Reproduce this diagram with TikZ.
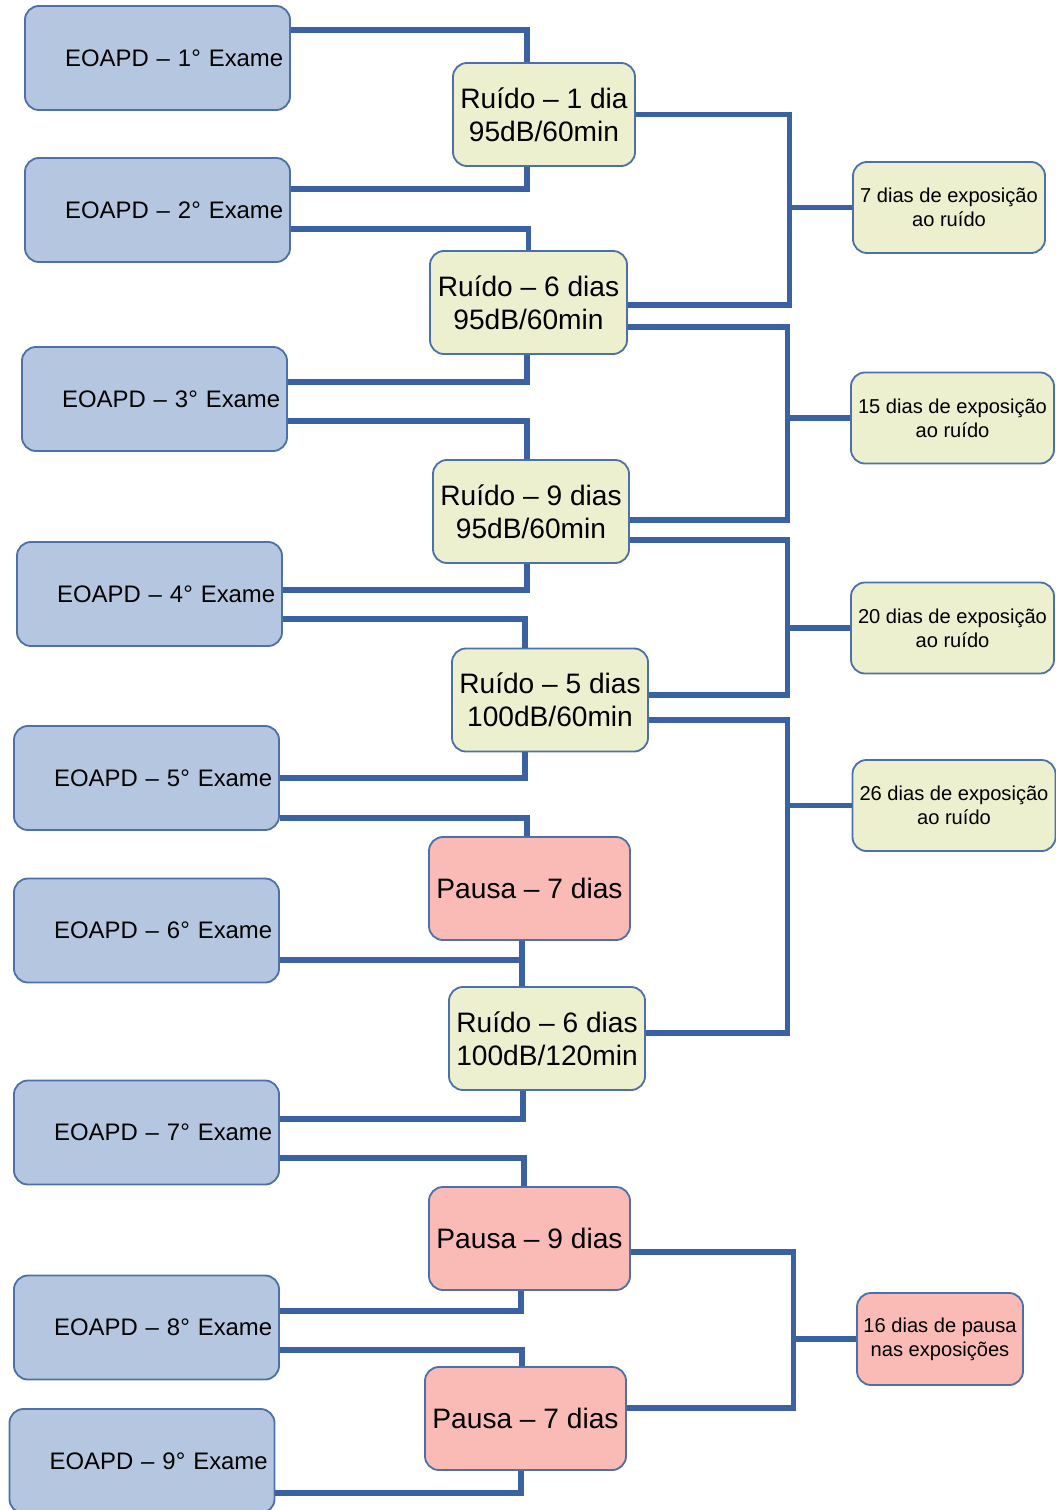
\documentclass[tikz,border=0pt]{standalone}
\usepackage{fontspec}
\setmainfont{Liberation Sans}
\usepackage{tikz}
\usetikzlibrary{calc}
\definecolor{examfill}{RGB}{181,199,224}
\definecolor{ruidofill}{RGB}{236,240,206}
\definecolor{pausafill}{RGB}{250,187,182}
\definecolor{boxline}{RGB}{78,112,168}
\definecolor{linkline}{RGB}{58,98,163}
\begin{document}
\begin{tikzpicture}[line join=miter,x=0.025cm,y=-0.025cm,
  exam/.style={draw=boxline,line width=1.3pt,fill=examfill,rounded corners=0.35cm,
    minimum height=2.6cm,text width=6.285cm,inner xsep=0.17cm,align=right,
    font=\fontsize{17}{20}\selectfont},
  ruido/.style={draw=boxline,line width=1.3pt,fill=ruidofill,rounded corners=0.35cm,
    minimum width=4.9cm,minimum height=2.575cm,inner xsep=0pt,align=center,
    font=\fontsize{20}{23.5}\selectfont},
  pausa/.style={ruido,fill=pausafill,minimum width=5.025cm},
  soma/.style={ruido,minimum width=5.075cm,minimum height=2.275cm,
    font=\fontsize{14.3}{17}\selectfont},
  link/.style={draw=linkline,line width=3.6pt}]
\useasboundingbox (0,0) rectangle (1056,1510);
\node[exam] (e1) at (157.5,58) {EOAPD -- 1° Exame};
\node[exam] (e2) at (157.5,210) {EOAPD -- 2° Exame};
\node[exam] (e3) at (154.5,399) {EOAPD -- 3° Exame};
\node[exam] (e4) at (149.5,594) {EOAPD -- 4° Exame};
\node[exam] (e5) at (146.5,778) {EOAPD -- 5° Exame};
\node[exam] (e6) at (146.5,930.5) {EOAPD -- 6° Exame};
\node[exam] (e7) at (146.5,1132.5) {EOAPD -- 7° Exame};
\node[exam] (e8) at (146.5,1327.5) {EOAPD -- 8° Exame};
\node[exam] (e9) at (142,1461) {EOAPD -- 9° Exame};
\node[ruido,minimum width=4.55cm] (r1) at (544,114.5) {Ruído -- 1 dia\\95dB/60min};
\node[ruido,minimum width=4.925cm] (r2) at (528.5,302.5) {Ruído -- 6 dias\\95dB/60min};
\node[ruido] (r3) at (531,511.5) {Ruído -- 9 dias\\95dB/60min};
\node[ruido] (r4) at (550,700) {Ruído -- 5 dias\\100dB/60min};
\node[pausa] (p1) at (529.5,888.5) {Pausa -- 7 dias};
\node[ruido] (r5) at (547,1038.5) {Ruído -- 6 dias\\100dB/120min};
\node[pausa] (p2) at (529.5,1238.5) {Pausa -- 9 dias};
\node[pausa] (p3) at (525.5,1418.5) {Pausa -- 7 dias};
\node[soma,minimum width=4.8cm] (s1) at (949,207.5) {7 dias de exposição\\ao ruído};
\node[soma] (s2) at (952.5,418) {15 dias de exposição\\ao ruído};
\node[soma] (s3) at (952.5,628) {20 dias de exposição\\ao ruído};
\node[soma] (s4) at (954,805.5) {26 dias de exposição\\ao ruído};
\node[soma,fill=pausafill,minimum width=4.15cm,minimum height=2.3cm] (s5) at (940,1339) {16 dias de pausa\\nas exposições};
\draw[link] ($(e1.east)+(0,-28)$) -| ($(r1.north)+(-17,0)$);
\draw[link] ($(r1.south)+(-17,0)$) |- ($(e2.east)+(0,-21)$);
\draw[link] ($(e2.east)+(0,19)$) -| ($(r2.north)+(0,0)$);
\draw[link] ($(r2.south)+(-1.5,0)$) |- ($(e3.east)+(0,-17)$);
\draw[link] ($(e3.east)+(0,22)$) -| ($(r3.north)+(-4,0)$);
\draw[link] ($(r3.south)+(-4,0)$) |- ($(e4.east)+(0,-4)$);
\draw[link] ($(e4.east)+(0,25)$) -| ($(r4.north)+(-25,0)$);
\draw[link] ($(r4.south)+(-25,0)$) |- (e5.east);
\draw[link] ($(e5.east)+(0,40)$) -| ($(p1.north)+(-2.5,0)$);
\draw[link] ($(p1.south)+(-7.5,0)$) -- ($(r5.north)+(-25,0)$);
\draw[link] ($(e6.east)+(0,29.5)$) -| ($(p1.south)+(-7.5,0)$);
\draw[link] ($(r5.south)+(-24,0)$) |- ($(e7.east)+(0,-13.5)$);
\draw[link] ($(e7.east)+(0,25.5)$) -| ($(p2.north)+(-5.5,0)$);
\draw[link] ($(p2.south)+(-8.5,0)$) |- ($(e8.east)+(0,-16.5)$);
\draw[link] ($(e8.east)+(0,22.5)$) -| ($(p3.north)+(-3.5,0)$);
\draw[link] ($(p3.south)+(-4.5,0)$) |- ($(e9.east)+(0,32)$);
\draw[link] (r1.east) -- ++(154,0) |- ($(r2.east)+(0,2.5)$);
\draw[link] (s1.west) -- ++(-64,0);
\draw[link] ($(r2.east)+(0,24.5)$) -- ++(160,0) |- ($(r3.east)+(0,8.5)$);
\draw[link] (s2.west) -- ++(-64,0);
\draw[link] ($(r3.east)+(0,28.5)$) -- ++(158,0) |- ($(r4.east)+(0,-5)$);
\draw[link] (s3.west) -- ++(-64,0);
\draw[link] ($(r4.east)+(0,20)$) -- ++(139,0) |- ($(r5.east)+(0,-5.5)$);
\draw[link] (s4.west) -- ++(-66,0);
\draw[link] ($(p2.east)+(0,13.5)$) -- ++(163,0) |- ($(p3.east)+(0,-10.5)$);
\draw[link] (s5.west) -- ++(-64,0);
\end{tikzpicture}
\end{document}
